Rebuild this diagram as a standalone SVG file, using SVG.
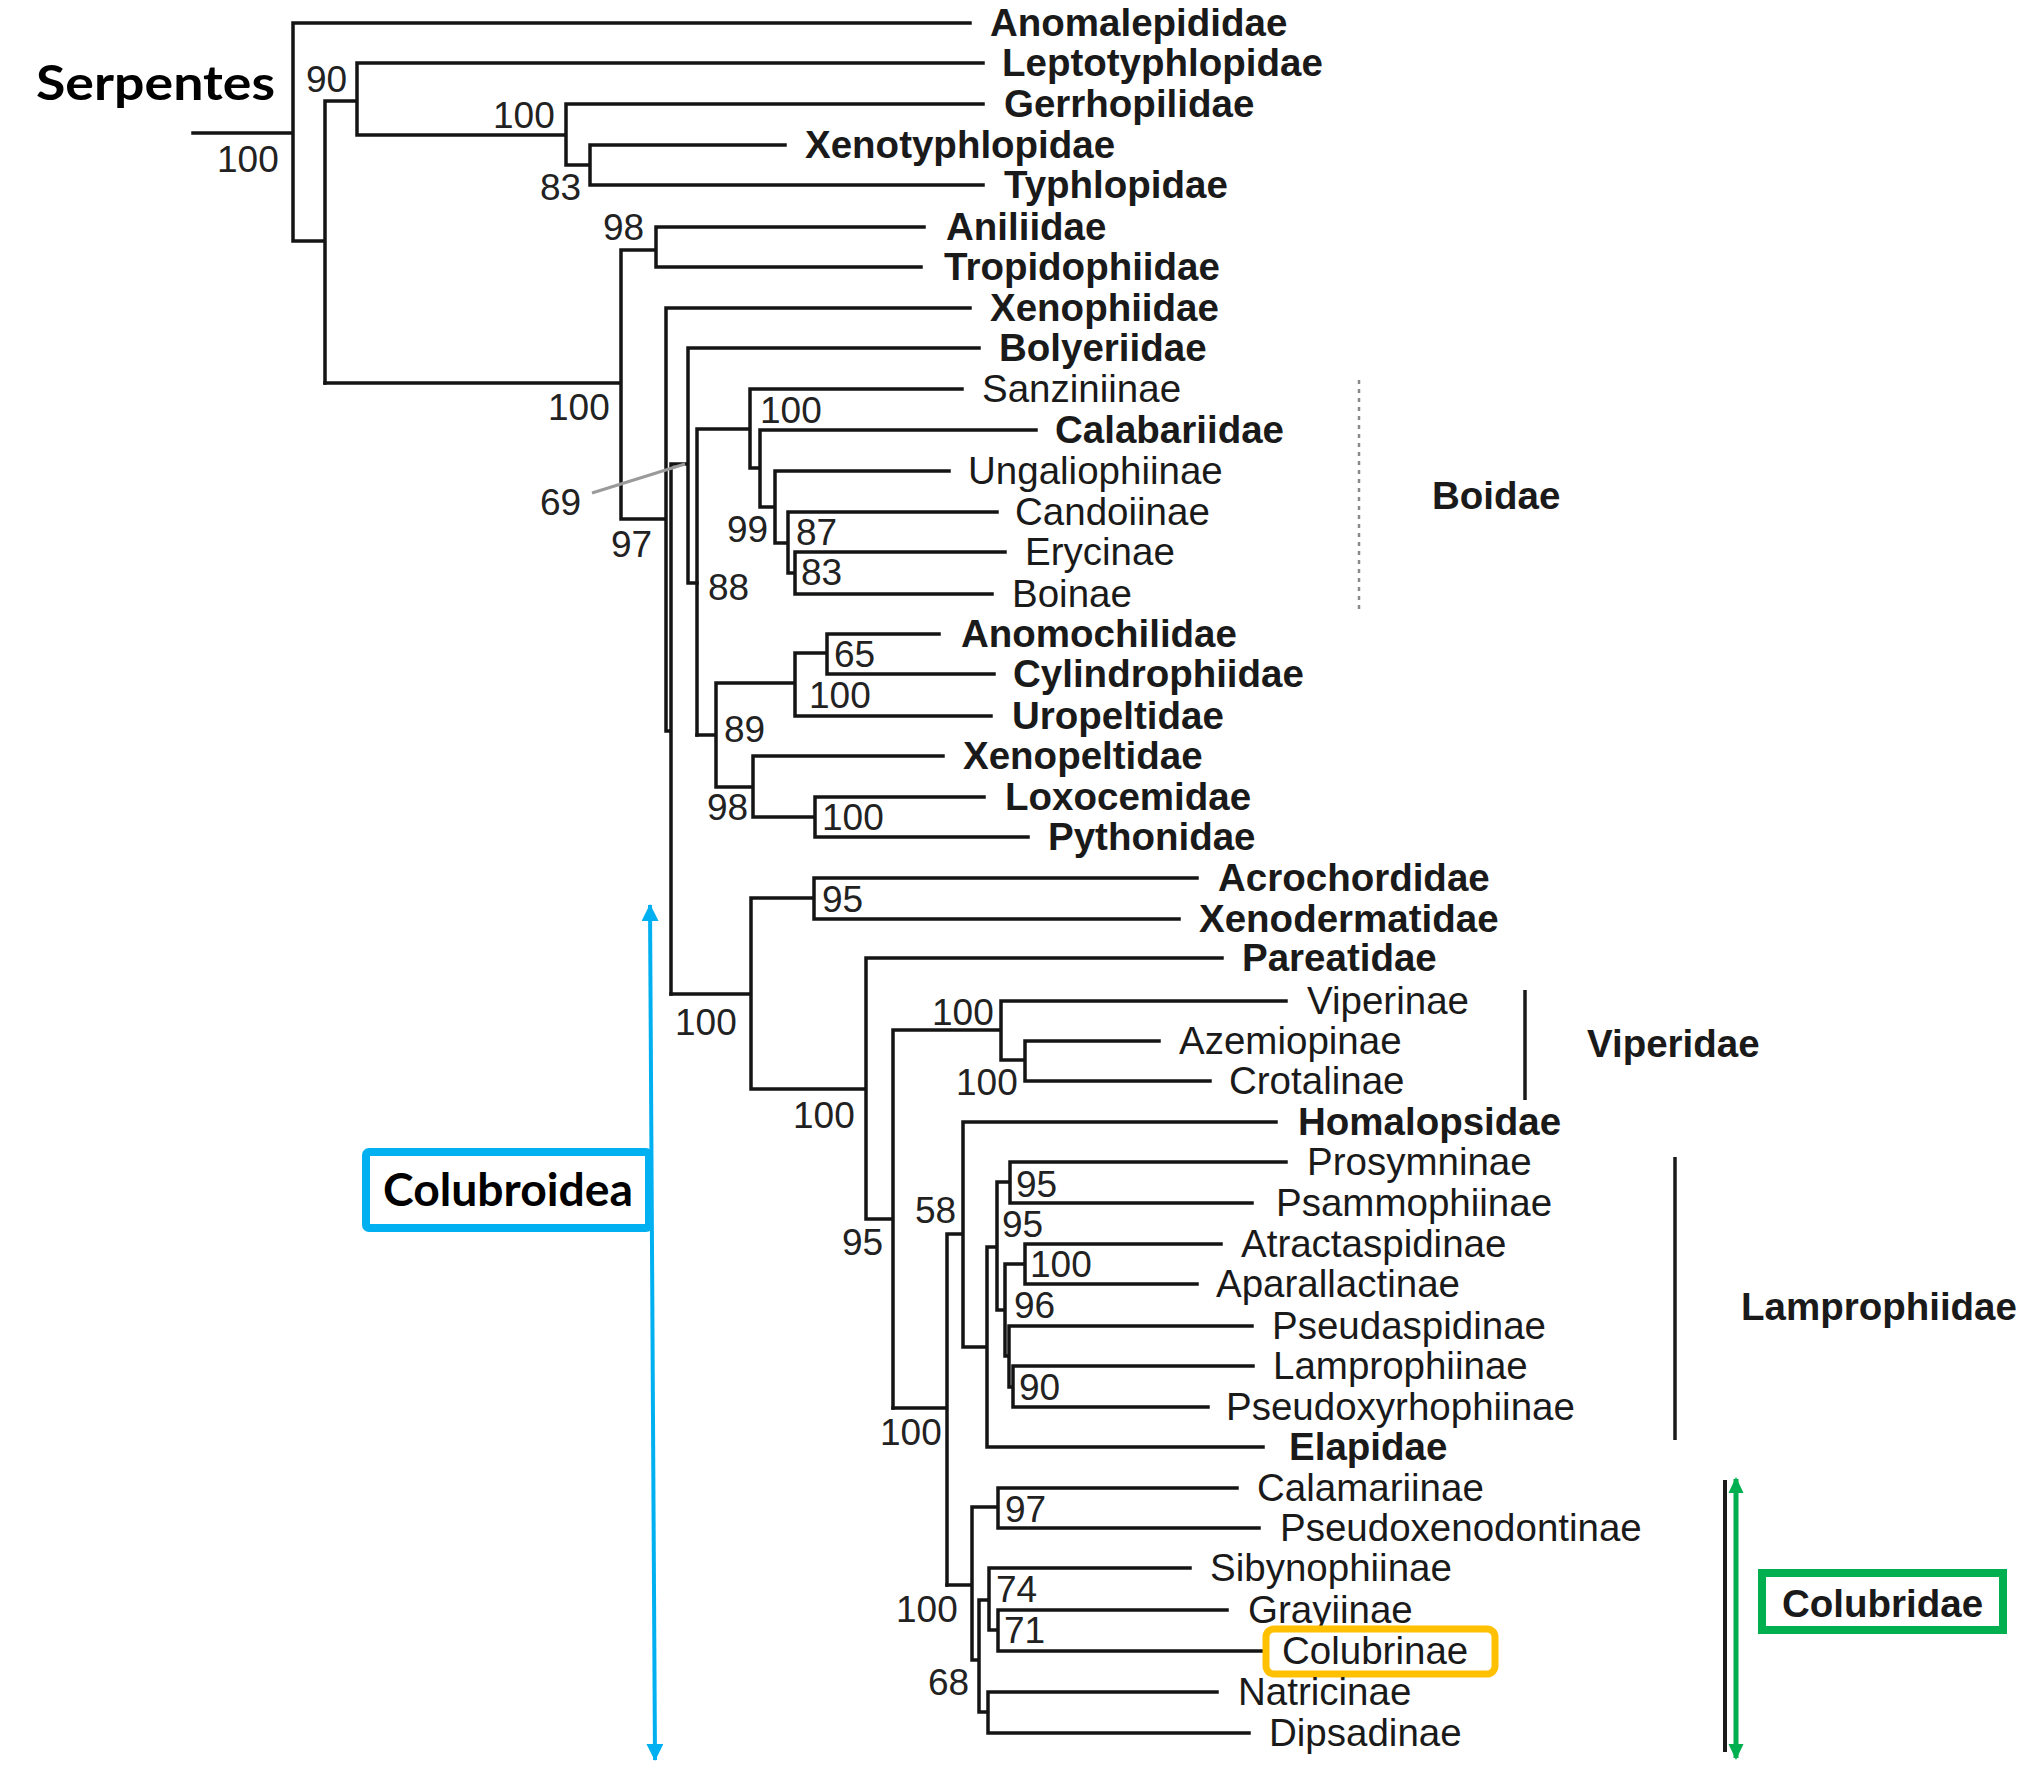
<svg xmlns="http://www.w3.org/2000/svg" width="2019" height="1780" viewBox="0 0 2019 1780">
<style>
.br{fill:none;stroke:#141414;stroke-width:3.5;stroke-linecap:square}
.tx{font-family:"Liberation Sans",Arial,sans-serif;font-size:38.5px;fill:#1a1a1a}
.b{font-weight:bold}
.sv{font-family:"Liberation Sans",Arial,sans-serif;font-size:37px;fill:#222}
.big{font-family:Lato,"Open Sans",sans-serif;font-weight:bold;fill:#000}
</style>
<defs>
<marker id="ab" viewBox="0 0 17 17" refX="16" refY="8.5" markerWidth="17" markerHeight="17" markerUnits="userSpaceOnUse" orient="auto-start-reverse"><path d="M0,0 L17,8.5 L0,17 z" fill="#00B0F0"/></marker>
<marker id="ag" viewBox="0 0 16 17" refX="15" refY="8" markerWidth="17" markerHeight="16" markerUnits="userSpaceOnUse" orient="auto-start-reverse"><path d="M0,0 L17,8 L0,16 z" fill="#00B050"/></marker>
</defs>
<rect width="2019" height="1780" fill="#fff"/>

<g id="connectors">
<path class="br" d="M193,133H293 M293,23V241 M293,23H970 M293,241H325 M325,101V383 M325,101H357 M357,63V135 M357,63H983 M357,135H566 M566,104V165 M566,104H983 M566,165H590 M590,145V185 M590,145H785 M590,185H983"/>
<path class="br" d="M325,383H621 M621,250V519 M621,250H656 M656,227V267 M656,227H924 M656,267H921 M621,519H666 M666,308V731 M666,308H970 M666,731H671 M671,464V994 M671,464H688 M688,348V583 M688,348H979 M688,583H697"/>
<path class="br" d="M697,429V735 M697,429H750 M750,389V468 M750,389H962 M750,468H760 M760,430V507 M760,430H1036 M760,507H775 M775,471V543 M775,471H949 M775,543H788 M788,512V573 M788,512H997 M788,573H795 M795,552V594 M795,552H1005 M795,594H992"/>
<path class="br" d="M697,735H716 M716,683V787 M716,683H795 M795,653V716 M795,653H827 M827,634V674 M827,634H939 M827,674H994 M795,716H991 M716,787H753 M753,756V817 M753,756H943 M753,817H815 M815,797V837 M815,797H984 M815,837H1028"/>
<path class="br" d="M671,994H751 M751,898V1089 M751,898H814 M814,878V919 M814,878H1197 M814,919H1179 M751,1089H866 M866,958V1219 M866,958H1222 M866,1219H893 M893,1030V1408 M893,1030H1001 M1001,1001V1060 M1001,1001H1286 M1001,1060H1025 M1025,1041V1081 M1025,1041H1159 M1025,1081H1210"/>
<path class="br" d="M893,1408H947 M947,1234V1585 M947,1234H963 M963,1122V1347 M963,1122H1276 M963,1347H987 M987,1247V1447 M987,1447H1263 M987,1247H997 M997,1182V1310 M997,1182H1010 M1010,1162V1203 M1010,1162H1286 M1010,1203H1252 M997,1310H1005 M1005,1264V1356 M1005,1264H1025 M1025,1244V1284 M1025,1244H1221 M1025,1284H1197 M1005,1356H1009 M1009,1326V1387 M1009,1326H1252 M1009,1387H1013 M1013,1366V1407 M1013,1366H1253 M1013,1407H1208"/>
<path class="br" d="M947,1585H972 M972,1507V1660 M972,1507H998 M998,1488V1528 M998,1488H1237 M998,1528H1259 M972,1660H979 M979,1600V1712 M979,1600H989 M989,1568V1630 M989,1568H1190 M989,1630H998 M998,1610V1651 M998,1610H1227 M998,1651H1263 M979,1712H988 M988,1692V1733 M988,1692H1217 M988,1733H1249"/>
<path d="M592,493L685,464" fill="none" stroke="#9a9a9a" stroke-width="3"/>
<line x1="650" y1="905" x2="655" y2="1760" stroke="#00B0F0" stroke-width="4" marker-start="url(#ab)" marker-end="url(#ab)"/>
<line x1="1736" y1="1479" x2="1736" y2="1758" stroke="#00B050" stroke-width="5" marker-start="url(#ag)" marker-end="url(#ag)"/>
</g>

<g id="clade-bars">
<line x1="1359" y1="380" x2="1359" y2="612" stroke="#8a8a8a" stroke-width="2.5" stroke-dasharray="4 5"/>
<line x1="1525" y1="990" x2="1525" y2="1100" stroke="#1a1a1a" stroke-width="3.5"/>
<line x1="1675" y1="1157" x2="1675" y2="1440" stroke="#1a1a1a" stroke-width="3.5"/>
<line x1="1725" y1="1480" x2="1725" y2="1752" stroke="#1a1a1a" stroke-width="4"/>
</g>

<g id="support-values" class="sv">
<text x="217" y="172">100</text>
<text x="306" y="92">90</text>
<text x="493" y="128">100</text>
<text x="540" y="200">83</text>
<text x="603" y="240">98</text>
<text x="548" y="420">100</text>
<text x="611" y="557">97</text>
<text x="540" y="515">69</text>
<text x="760" y="423">100</text>
<text x="727" y="542">99</text>
<text x="796" y="545">87</text>
<text x="801" y="585">83</text>
<text x="708" y="600">88</text>
<text x="834" y="667">65</text>
<text x="809" y="708">100</text>
<text x="724" y="742">89</text>
<text x="707" y="820">98</text>
<text x="822" y="830">100</text>
<text x="822" y="912">95</text>
<text x="675" y="1035">100</text>
<text x="793" y="1128">100</text>
<text x="932" y="1025">100</text>
<text x="956" y="1095">100</text>
<text x="842" y="1255">95</text>
<text x="915" y="1223">58</text>
<text x="1016" y="1197">95</text>
<text x="1002" y="1237">95</text>
<text x="1030" y="1277">100</text>
<text x="1014" y="1318">96</text>
<text x="1019" y="1400">90</text>
<text x="880" y="1445">100</text>
<text x="1005" y="1522">97</text>
<text x="896" y="1622">100</text>
<text x="996" y="1602">74</text>
<text x="1004" y="1643">71</text>
<text x="928" y="1695">68</text>
</g>

<g id="n-anomalepididae"><text class="tx b" x="990" y="36">Anomalepididae</text></g>
<g id="n-leptotyphlopidae"><text class="tx b" x="1002" y="76">Leptotyphlopidae</text></g>
<g id="n-gerrhopilidae"><text class="tx b" x="1004" y="117">Gerrhopilidae</text></g>
<g id="n-xenotyphlopidae"><text class="tx b" x="805" y="158">Xenotyphlopidae</text></g>
<g id="n-typhlopidae"><text class="tx b" x="1004" y="198">Typhlopidae</text></g>
<g id="n-aniliidae"><text class="tx b" x="946" y="240">Aniliidae</text></g>
<g id="n-tropidophiidae"><text class="tx b" x="944" y="280">Tropidophiidae</text></g>
<g id="n-xenophiidae"><text class="tx b" x="990" y="321">Xenophiidae</text></g>
<g id="n-bolyeriidae"><text class="tx b" x="999" y="361">Bolyeriidae</text></g>
<g id="n-sanziniinae"><text class="tx" x="982" y="402">Sanziniinae</text></g>
<g id="n-calabariidae"><text class="tx b" x="1055" y="443">Calabariidae</text></g>
<g id="n-ungaliophiinae"><text class="tx" x="968" y="484">Ungaliophiinae</text></g>
<g id="n-candoiinae"><text class="tx" x="1015" y="525">Candoiinae</text></g>
<g id="n-erycinae"><text class="tx" x="1025" y="565">Erycinae</text></g>
<g id="n-boinae"><text class="tx" x="1012" y="607">Boinae</text></g>
<g id="n-anomochilidae"><text class="tx b" x="961" y="647">Anomochilidae</text></g>
<g id="n-cylindrophiidae"><text class="tx b" x="1013" y="687">Cylindrophiidae</text></g>
<g id="n-uropeltidae"><text class="tx b" x="1012" y="729">Uropeltidae</text></g>
<g id="n-xenopeltidae"><text class="tx b" x="963" y="769">Xenopeltidae</text></g>
<g id="n-loxocemidae"><text class="tx b" x="1005" y="810">Loxocemidae</text></g>
<g id="n-pythonidae"><text class="tx b" x="1048" y="850">Pythonidae</text></g>
<g id="n-acrochordidae"><text class="tx b" x="1218" y="891">Acrochordidae</text></g>
<g id="n-xenodermatidae"><text class="tx b" x="1199" y="932">Xenodermatidae</text></g>
<g id="n-pareatidae"><text class="tx b" x="1242" y="971">Pareatidae</text></g>
<g id="n-viperinae"><text class="tx" x="1307" y="1014">Viperinae</text></g>
<g id="n-azemiopinae"><text class="tx" x="1179" y="1054">Azemiopinae</text></g>
<g id="n-crotalinae"><text class="tx" x="1229" y="1094">Crotalinae</text></g>
<g id="n-homalopsidae"><text class="tx b" x="1298" y="1135">Homalopsidae</text></g>
<g id="n-prosymninae"><text class="tx" x="1307" y="1175">Prosymninae</text></g>
<g id="n-psammophiinae"><text class="tx" x="1276" y="1216">Psammophiinae</text></g>
<g id="n-atractaspidinae"><text class="tx" x="1241" y="1257">Atractaspidinae</text></g>
<g id="n-aparallactinae"><text class="tx" x="1216" y="1297">Aparallactinae</text></g>
<g id="n-pseudaspidinae"><text class="tx" x="1272" y="1339">Pseudaspidinae</text></g>
<g id="n-lamprophiinae"><text class="tx" x="1273" y="1379">Lamprophiinae</text></g>
<g id="n-pseudoxyrhophiinae"><text class="tx" x="1226" y="1420">Pseudoxyrhophiinae</text></g>
<g id="n-elapidae"><text class="tx b" x="1289" y="1460">Elapidae</text></g>
<g id="n-calamariinae"><text class="tx" x="1257" y="1501">Calamariinae</text></g>
<g id="n-pseudoxenodontinae"><text class="tx" x="1280" y="1541">Pseudoxenodontinae</text></g>
<g id="n-sibynophiinae"><text class="tx" x="1210" y="1581">Sibynophiinae</text></g>
<g id="n-grayiinae"><text class="tx" x="1248" y="1623">Grayiinae</text></g>
<g id="n-colubrinae"><rect x="1266" y="1629" width="229" height="45" rx="8" fill="none" stroke="#FFC000" stroke-width="7"/><text class="tx" x="1282" y="1664">Colubrinae</text></g>
<g id="n-natricinae"><text class="tx" x="1238" y="1705">Natricinae</text></g>
<g id="n-dipsadinae"><text class="tx" x="1269" y="1746">Dipsadinae</text></g>

<g id="n-boidae"><text class="tx b" x="1432" y="509">Boidae</text></g>
<g id="n-viperidae"><text class="tx b" x="1587" y="1057">Viperidae</text></g>
<g id="n-lamprophiidae"><text class="tx b" x="1741" y="1320">Lamprophiidae</text></g>
<g id="n-colubridae"><rect x="1762" y="1573" width="241" height="57" fill="#fff" stroke="#00B050" stroke-width="8"/><text class="tx b" x="1782" y="1617">Colubridae</text></g>
<g id="n-serpentes"><text class="big" x="36" y="100" font-size="48" textLength="239" lengthAdjust="spacingAndGlyphs">Serpentes</text></g>
<g id="n-colubroidea"><rect x="366" y="1152" width="283" height="76" rx="3" fill="#fff" stroke="#00B0F0" stroke-width="8"/><text class="big" x="383" y="1206" font-size="46" textLength="250" lengthAdjust="spacingAndGlyphs">Colubroidea</text></g>
</svg>
